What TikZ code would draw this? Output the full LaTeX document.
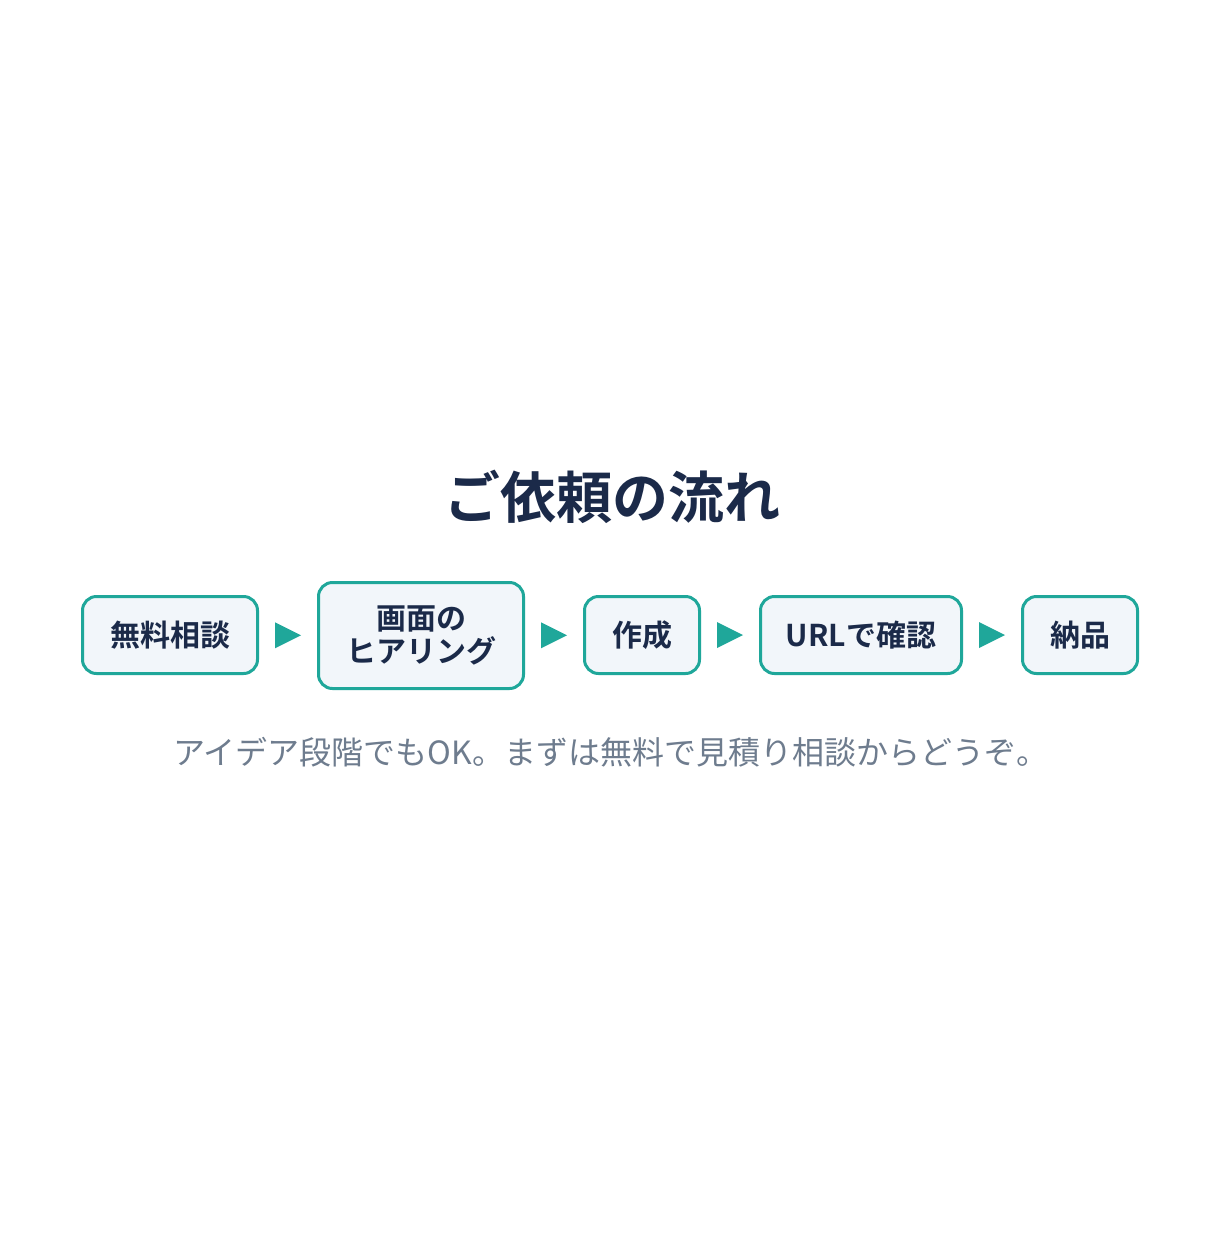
\documentclass[tikz,border=0pt]{standalone}
\usepackage{fontspec}
\newfontfamily\jpb{Noto Sans CJK JP Bold}
\newfontfamily\jpr{Noto Sans CJK JP}
\usetikzlibrary{calc}
\definecolor{teal1}{HTML}{1FA79A}
\definecolor{navy1}{HTML}{1B2A49}
\definecolor{boxfill}{HTML}{F2F6FA}
\definecolor{gray1}{HTML}{6E7C8E}
\tikzset{
  stepbox/.style={draw=teal1, line width=3pt, fill=boxfill, rounded corners=14pt,
    minimum height=77pt, text=navy1, font=\jpb\fontsize{30}{30}\selectfont, align=center, inner sep=0pt},
  tri/.style={fill=teal1},
}
\begin{document}
\begin{tikzpicture}[x=1pt,y=-1pt]
\useasboundingbox (0,0) rectangle (1220,1240);
\fill[white] (0,0) rectangle (1220,1240);
\node[font=\jpb\fontsize{56}{60}\selectfont, text=navy1] (title) at (612.5,497) {ご依頼の流れ};
\node[stepbox, minimum width=175pt] (b1) at (170,635) {無料相談};
\node[stepbox, minimum width=205pt, minimum height=106pt] (b2) at (421,635.5) {画面の\\[3pt]ヒアリング};
\node[stepbox, minimum width=115pt] (b3) at (642,635) {作成};
\node[stepbox, minimum width=201pt] (b4) at (861,635) {URLで確認};
\node[stepbox, minimum width=115pt] (b5) at (1080,635) {納品};
\foreach \a/\b [count=\i] in {b1/b2,b2/b3,b3/b4,b4/b5}{
  \coordinate (m\i) at ($(\a.east)!0.5!(\b.west)$);
  \fill[tri] ($(m\i)+(-13,-13)$) -- ($(m\i)+(13,0)$) -- ($(m\i)+(-13,13)$) -- cycle;
}
\node[font=\jpr\fontsize{32}{36}\selectfont, text=gray1] (sub) at (611,752) {アイデア段階でもOK。まずは無料で見積り相談からどうぞ。};
\end{tikzpicture}
\end{document}
